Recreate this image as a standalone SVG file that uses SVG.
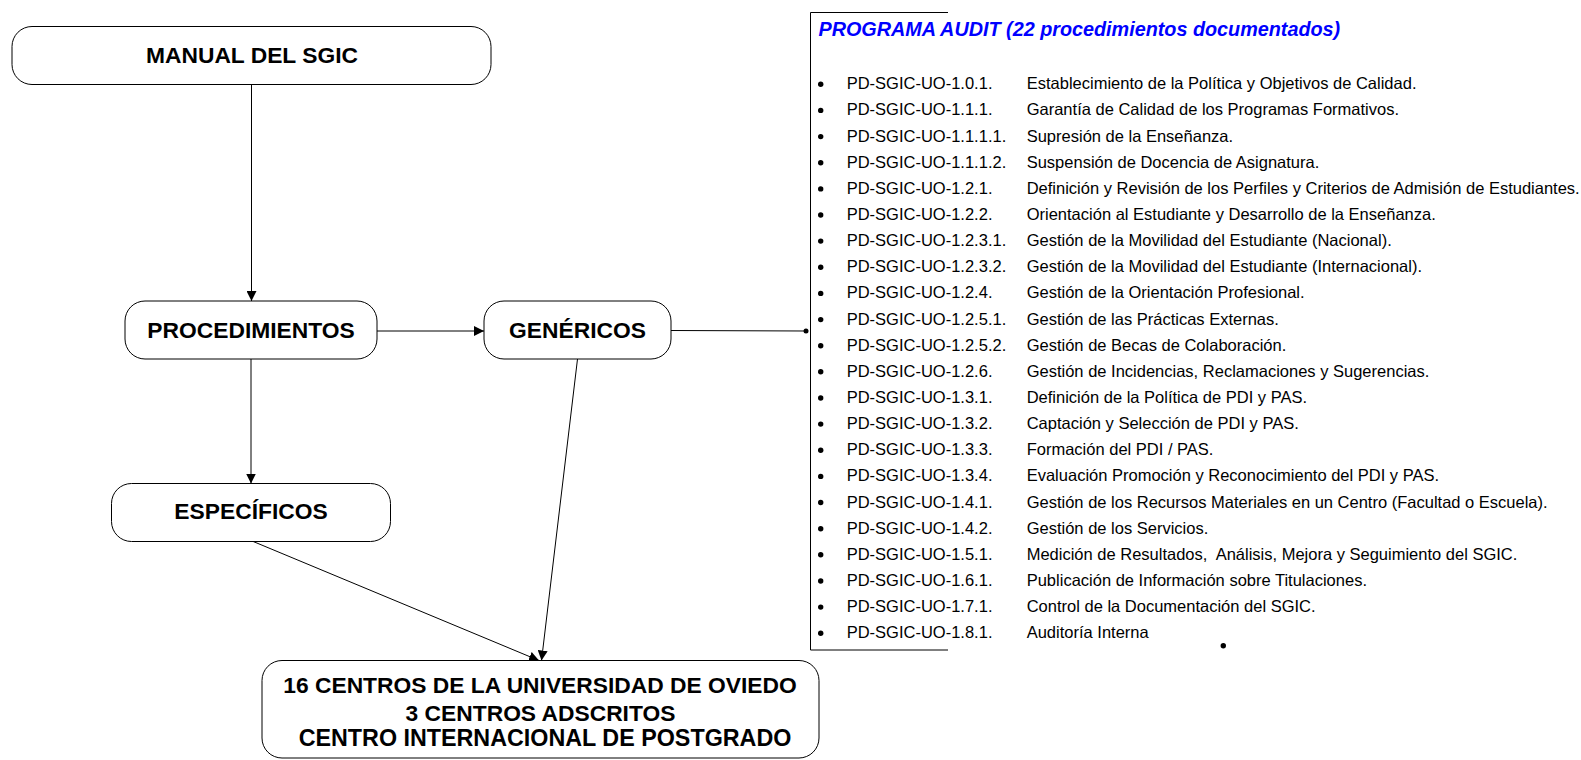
<svg xmlns="http://www.w3.org/2000/svg" width="1581" height="760" viewBox="0 0 1581 760">
<style>
.box{fill:#fff;stroke:#000;stroke-width:1}
.lbl{font-family:"Liberation Sans",Arial,sans-serif;font-weight:bold;font-size:22.8px;fill:#000;text-anchor:middle}
.edge{stroke:#000;stroke-width:1;fill:none}
.frame{stroke:#000;stroke-width:1;fill:none}
.title{font-family:"Liberation Sans",Arial,sans-serif;font-weight:bold;font-style:italic;font-size:19.8px;fill:#0000FF}
.it{font-family:"Liberation Sans",Arial,sans-serif;font-size:16.5px;fill:#000;white-space:pre}
.bul{fill:#000}
</style>
<defs>
<marker id="arr" viewBox="0 0 10 10" refX="10" refY="5" markerWidth="10" markerHeight="10" markerUnits="userSpaceOnUse" orient="auto">
<path d="M0,0 L10,5 L0,10 Z" fill="#000"/>
</marker>
</defs>
<rect width="1581" height="760" fill="#fff"/>
<g id="connectors">
<line class="edge" x1="251.5" y1="85" x2="251.5" y2="301" marker-end="url(#arr)"/>
<line class="edge" x1="377" y1="331" x2="484" y2="331" marker-end="url(#arr)"/>
<line class="edge" x1="251" y1="359" x2="251" y2="483.5" marker-end="url(#arr)"/>
<line class="edge" x1="671" y1="330.5" x2="806" y2="331"/>
<circle cx="806" cy="331" r="2.5" fill="#000"/>
<line class="edge" x1="252" y1="541" x2="539" y2="660.5" marker-end="url(#arr)"/>
<line class="edge" x1="577.5" y1="359" x2="541.5" y2="660.5" marker-end="url(#arr)"/>
</g>
<g id="manual">
<rect class="box" x="12" y="26.5" width="479" height="58" rx="20" ry="20"/>
<text class="lbl" x="252" y="62.5">MANUAL DEL SGIC</text>
</g>
<g id="procedimientos">
<rect class="box" x="125" y="301" width="252" height="58" rx="20" ry="20"/>
<text class="lbl" x="251" y="337.5">PROCEDIMIENTOS</text>
</g>
<g id="genericos">
<rect class="box" x="484" y="301" width="187" height="58" rx="20" ry="20"/>
<text class="lbl" x="577.5" y="337.5">GENÉRICOS</text>
</g>
<g id="especificos">
<rect class="box" x="111.5" y="483.5" width="279" height="58" rx="20" ry="20"/>
<text class="lbl" x="251" y="518.5">ESPECÍFICOS</text>
</g>
<g id="centros">
<rect class="box" x="262" y="660.5" width="557" height="97.5" rx="20" ry="20"/>
<text class="lbl" x="540" y="693">16 CENTROS DE LA UNIVERSIDAD DE OVIEDO</text>
<text class="lbl" x="540.5" y="720.5">3 CENTROS ADSCRITOS</text>
<text class="lbl" x="545" y="746" style="font-size:23.3px">CENTRO INTERNACIONAL DE POSTGRADO</text>
</g>
<g id="audit-list">
<path class="frame" d="M948,12.5 H810.5 V650 H948"/>
<text class="title" x="818.5" y="35.5">PROGRAMA AUDIT (22 procedimientos documentados)</text>
<g class="bul">
<circle cx="820.7" cy="84.3" r="2.7"/><circle cx="820.7" cy="110.4" r="2.7"/><circle cx="820.7" cy="136.6" r="2.7"/><circle cx="820.7" cy="162.7" r="2.7"/><circle cx="820.7" cy="188.9" r="2.7"/><circle cx="820.7" cy="215" r="2.7"/><circle cx="820.7" cy="241.1" r="2.7"/><circle cx="820.7" cy="267.3" r="2.7"/><circle cx="820.7" cy="293.4" r="2.7"/><circle cx="820.7" cy="319.6" r="2.7"/><circle cx="820.7" cy="345.7" r="2.7"/><circle cx="820.7" cy="371.8" r="2.7"/><circle cx="820.7" cy="398" r="2.7"/><circle cx="820.7" cy="424.1" r="2.7"/><circle cx="820.7" cy="450.3" r="2.7"/><circle cx="820.7" cy="476.4" r="2.7"/><circle cx="820.7" cy="502.5" r="2.7"/><circle cx="820.7" cy="528.7" r="2.7"/><circle cx="820.7" cy="554.8" r="2.7"/><circle cx="820.7" cy="581" r="2.7"/><circle cx="820.7" cy="607.1" r="2.7"/><circle cx="820.7" cy="633.2" r="2.7"/>
<circle cx="1223.3" cy="645.7" r="2.7"/>
</g>
<g class="it">
<text x="846.7" y="89.3">PD-SGIC-UO-1.0.1.</text><text x="1026.7" y="89.3">Establecimiento de la Política y Objetivos de Calidad.</text>
<text x="846.7" y="115.4">PD-SGIC-UO-1.1.1.</text><text x="1026.7" y="115.4">Garantía de Calidad de los Programas Formativos.</text>
<text x="846.7" y="141.6">PD-SGIC-UO-1.1.1.1.</text><text x="1026.7" y="141.6">Supresión de la Enseñanza.</text>
<text x="846.7" y="167.7">PD-SGIC-UO-1.1.1.2.</text><text x="1026.7" y="167.7">Suspensión de Docencia de Asignatura.</text>
<text x="846.7" y="193.9">PD-SGIC-UO-1.2.1.</text><text x="1026.7" y="193.9">Definición y Revisión de los Perfiles y Criterios de Admisión de Estudiantes.</text>
<text x="846.7" y="220">PD-SGIC-UO-1.2.2.</text><text x="1026.7" y="220">Orientación al Estudiante y Desarrollo de la Enseñanza.</text>
<text x="846.7" y="246.1">PD-SGIC-UO-1.2.3.1.</text><text x="1026.7" y="246.1">Gestión de la Movilidad del Estudiante (Nacional).</text>
<text x="846.7" y="272.3">PD-SGIC-UO-1.2.3.2.</text><text x="1026.7" y="272.3">Gestión de la Movilidad del Estudiante (Internacional).</text>
<text x="846.7" y="298.4">PD-SGIC-UO-1.2.4.</text><text x="1026.7" y="298.4">Gestión de la Orientación Profesional.</text>
<text x="846.7" y="324.6">PD-SGIC-UO-1.2.5.1.</text><text x="1026.7" y="324.6">Gestión de las Prácticas Externas.</text>
<text x="846.7" y="350.7">PD-SGIC-UO-1.2.5.2.</text><text x="1026.7" y="350.7">Gestión de Becas de Colaboración.</text>
<text x="846.7" y="376.8">PD-SGIC-UO-1.2.6.</text><text x="1026.7" y="376.8">Gestión de Incidencias, Reclamaciones y Sugerencias.</text>
<text x="846.7" y="403">PD-SGIC-UO-1.3.1.</text><text x="1026.7" y="403">Definición de la Política de PDI y PAS.</text>
<text x="846.7" y="429.1">PD-SGIC-UO-1.3.2.</text><text x="1026.7" y="429.1">Captación y Selección de PDI y PAS.</text>
<text x="846.7" y="455.3">PD-SGIC-UO-1.3.3.</text><text x="1026.7" y="455.3">Formación del PDI / PAS.</text>
<text x="846.7" y="481.4">PD-SGIC-UO-1.3.4.</text><text x="1026.7" y="481.4">Evaluación Promoción y Reconocimiento del PDI y PAS.</text>
<text x="846.7" y="507.5">PD-SGIC-UO-1.4.1.</text><text x="1026.7" y="507.5">Gestión de los Recursos Materiales en un Centro (Facultad o Escuela).</text>
<text x="846.7" y="533.7">PD-SGIC-UO-1.4.2.</text><text x="1026.7" y="533.7">Gestión de los Servicios.</text>
<text x="846.7" y="559.8">PD-SGIC-UO-1.5.1.</text><text x="1026.7" y="559.8" xml:space="preserve">Medición de Resultados,  Análisis, Mejora y Seguimiento del SGIC.</text>
<text x="846.7" y="586">PD-SGIC-UO-1.6.1.</text><text x="1026.7" y="586">Publicación de Información sobre Titulaciones.</text>
<text x="846.7" y="612.1">PD-SGIC-UO-1.7.1.</text><text x="1026.7" y="612.1">Control de la Documentación del SGIC.</text>
<text x="846.7" y="638.2">PD-SGIC-UO-1.8.1.</text><text x="1026.7" y="638.2">Auditoría Interna</text>
</g>
</g>
</svg>
